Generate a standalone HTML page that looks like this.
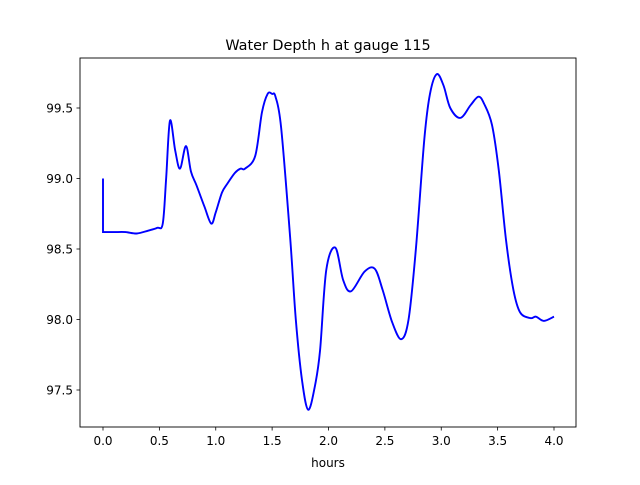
<!DOCTYPE html>
<html><head><meta charset="utf-8"><style>
body{margin:0;background:#fff}
svg text{font-family:"DejaVu Sans","Liberation Sans",sans-serif;fill:#000}
</style></head><body>
<svg id="chart" width="640" height="480">
<rect x="0" y="0" width="640" height="480" fill="#fff"/>
<text x="328" y="50" font-size="14.4" text-anchor="middle">Water Depth h at gauge 115</text>
<text x="328" y="467" font-size="12" text-anchor="middle">hours</text>
<g id="ticks"></g>
<path id="line" fill="none" stroke="#0000ff" stroke-width="1.9"/>
<rect x="80" y="58" width="496" height="369" fill="none" stroke="#000" stroke-width="0.9"/>
</svg>
<script>
const times=[0,0,0.1,0.2,0.3,0.4,0.48,0.53,0.56,0.594,0.64,0.683,0.736,0.78,0.83,0.9,0.96,1.0,1.055,1.1,1.17,1.22,1.26,1.35,1.41,1.46,1.5,1.53,1.58,1.66,1.71,1.765,1.82,1.88,1.925,1.98,2.06,2.13,2.2,2.32,2.41,2.48,2.565,2.645,2.71,2.775,2.85,2.9,2.96,3.02,3.08,3.17,3.26,3.33,3.38,3.45,3.51,3.575,3.64,3.7,3.79,3.84,3.91,4.0];
const depths=[99.0,98.62,98.62,98.62,98.61,98.63,98.65,98.68,99.0,99.41,99.2,99.07,99.23,99.05,98.95,98.8,98.68,98.76,98.9,98.96,99.04,99.07,99.07,99.16,99.47,99.6,99.6,99.58,99.36,98.58,98.0,97.57,97.36,97.53,97.78,98.35,98.51,98.28,98.2,98.34,98.36,98.21,97.98,97.86,98.0,98.5,99.28,99.6,99.74,99.66,99.5,99.43,99.52,99.58,99.53,99.38,99.06,98.56,98.21,98.05,98.01,98.02,97.99,98.02];
const xTicks=[0,0.5,1,1.5,2,2.5,3,3.5,4];
const xTickLabels=["0.0","0.5","1.0","1.5","2.0","2.5","3.0","3.5","4.0"];
const yTicks=[97.5,98,98.5,99,99.5];
const yTickLabels=["97.5","98.0","98.5","99.0","99.5"];
const sx=t=>103+t*112.75;
const sy=v=>108+(99.5-v)*141;
const NS="http://www.w3.org/2000/svg";
const g=document.getElementById('ticks');
function mk(tag,attrs){const e=document.createElementNS(NS,tag);for(const k in attrs)e.setAttribute(k,attrs[k]);return e;}
xTicks.forEach((t,i)=>{
 const l=mk('line',{x1:sx(t),x2:sx(t),y1:427,y2:430.5,stroke:'#000','stroke-width':0.8});
 
 
 g.appendChild(l);
 const tx=mk('text',{x:sx(t),y:445,'font-size':12,'text-anchor':'middle'});
 
 
 tx.textContent=xTickLabels[i];g.appendChild(tx);
});
yTicks.forEach((v,i)=>{
 const l=mk('line',{x1:76.5,x2:80,y1:sy(v),y2:sy(v),stroke:'#000','stroke-width':0.8});
 
 
 g.appendChild(l);
 const tx=mk('text',{x:73,y:sy(v)+4.5,'font-size':12,'text-anchor':'end'});
 
 
 tx.textContent=yTickLabels[i];g.appendChild(tx);
});
const P=times.map((t,i)=>[sx(t),sy(depths[i])]);
let d=`M${P[0][0]},${P[0][1]} L${P[1][0]},${P[1][1]}`;
for(let i=1;i<P.length-1;i++){
 const p0=P[Math.max(1,i-1)],p1=P[i],p2=P[i+1],p3=P[Math.min(P.length-1,i+2)];
 const c1=[p1[0]+(p2[0]-p0[0])/6,p1[1]+(p2[1]-p0[1])/6];
 const c2=[p2[0]-(p3[0]-p1[0])/6,p2[1]-(p3[1]-p1[1])/6];
 d+=` C${c1[0]},${c1[1]} ${c2[0]},${c2[1]} ${p2[0]},${p2[1]}`;
}
document.getElementById('line').setAttribute('d',d);
</script>
</body></html>
